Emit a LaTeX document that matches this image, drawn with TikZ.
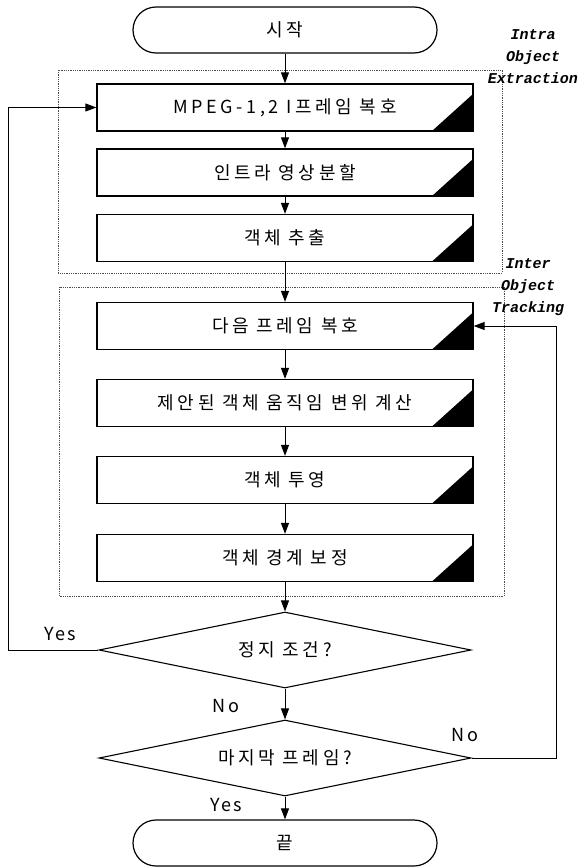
\documentclass[tikz,border=0pt]{standalone}
\usepackage{fontspec}
\newfontfamily\kr[LetterSpace=20]{Noto Sans CJK KR}
\newfontfamily\lab[LetterSpace=12]{Noto Sans CJK KR}
\newfontfamily\mono{Liberation Mono}
\usetikzlibrary{shapes.geometric,arrows.meta}
\begin{document}
\begin{tikzpicture}[x=1pt,y=-1pt,
  proc/.style={draw,line width=1.3pt,minimum width=376pt,minimum height=47pt,inner sep=0pt,
    font=\kr\fontsize{18}{20}\selectfont,
    path picture={\fill ([xshift=-41pt]path picture bounding box.south east) -- (path picture bounding box.south east) -- ([yshift=37pt]path picture bounding box.south east) -- cycle;}},
  term/.style={draw,line width=1.2pt,rounded corners=23pt,minimum width=304pt,minimum height=46pt,inner sep=0pt,
    font=\kr\fontsize{18}{20}\selectfont},
  dia/.style={draw,diamond,aspect=4.9,line width=1.1pt,minimum width=372pt,minimum height=76pt,inner sep=0pt,
    font=\kr\fontsize{18}{20}\selectfont},
  grp/.style={draw=black!70,line width=0.8pt,densely dotted},
  arr/.style={line width=1pt,-{Triangle[length=11pt,width=8pt]}},
  ln/.style={font=\lab\fontsize{18}{20}\selectfont},
  tag/.style={font=\mono\bfseries\itshape\fontsize{15}{22}\selectfont,align=center,inner sep=0pt}]
\useasboundingbox (0,0) rectangle (582,867);
% group frames
\draw[grp] (58,70) rectangle (502,273);
\draw[grp] (59,287) rectangle (504,596);
% terminals
\node[term] (s) at (285,30) {시작};
\node[term] (e) at (285,843) {끝};
% process boxes
\node[proc] (b1) at (285,107.5) {MPEG-1,2 I프레임 복호};
\node[proc] (b2) at (285,172.5) {인트라 영상분할};
\node[proc] (b3) at (285,238) {객체 추출};
\node[proc] (n1) at (285,326) {다음 프레임 복호};
\node[proc] (n2) at (285,403) {제안된 객체 움직임 변위 계산};
\node[proc] (n3) at (285,480) {객체 투영};
\node[proc] (n4) at (285,558) {객체 경계 보정};
% decisions
\node[dia] (d1) at (285,650) {정지 조건?};
\node[dia] (d2) at (285,758) {마지막 프레임?};
% group tags
\node[tag] (t1) at (533,57) {Intra\\Object\\Extraction};
\node[tag] (t2) at (528,287) {Inter\\Object\\Tracking};
% connectors
\draw[arr] (s) -- (b1);
\draw[arr] (b1) -- (b2);
\draw[arr] (b2) -- (b3);
\draw[arr] (b3) -- (n1);
\draw[arr] (n1) -- (n2);
\draw[arr] (n2) -- (n3);
\draw[arr] (n3) -- (n4);
\draw[arr] (n4) -- (d1);
\draw[arr] (d1) -- (d2);
\draw[arr] (d2) -- (e);
\coordinate (yl) at (8,650);
\coordinate (nr) at (556,758);
\draw[arr] (d1.west) -- (yl) |- (b1.west);
\draw[arr] (d2.east) -- (nr) |- (n1.east);
% labels
\node[ln] (lyes1) at (60,634) {Yes};
\node[ln] (lno1) at (226,706) {No};
\node[ln] (lno2) at (465,735) {No};
\node[ln] (lyes2) at (226,805) {Yes};
\end{tikzpicture}
\end{document}
